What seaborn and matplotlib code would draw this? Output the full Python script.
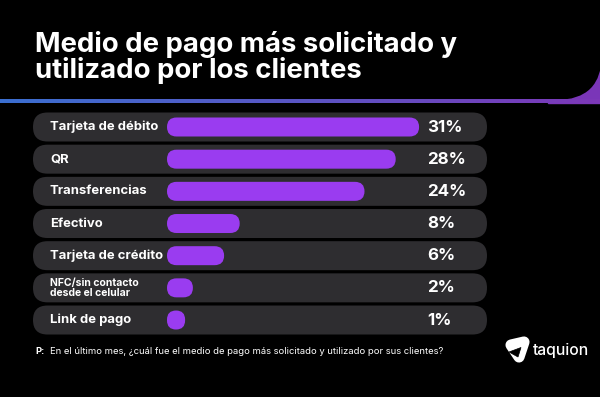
import numpy as np
import pandas as pd
import matplotlib
matplotlib.use("Agg")
import matplotlib.pyplot as plt
import seaborn as sns
from matplotlib.patches import FancyBboxPatch, Rectangle, Polygon
from matplotlib.colors import LinearSegmentedColormap

categories = ["Tarjeta de débito", "QR", "Transferencias", "Efectivo",
              "Tarjeta de crédito", "NFC/sin contacto\ndesde el celular", "Link de pago"]
values = [31, 28, 24, 8, 6, 2, 1]
value_labels = ["31%", "28%", "24%", "8%", "6%", "2%", "1%"]
title = "Medio de pago más solicitado y\nutilizado por los clientes"
question = "En el último mes, ¿cuál fue el medio de pago más solicitado y utilizado por sus clientes?"

BG = "#000000"
PILL = "#2e2d30"
BAR = "#9a3cf0"
FONT = ["Inter", "DejaVu Sans"]

sns.set_theme(style="white")
plt.rcParams["font.family"] = FONT

W, H = 600, 397
fig = plt.figure(figsize=(W / 100, H / 100), dpi=100, facecolor=BG)

# decoration axes in pixel units
bg = fig.add_axes([0, 0, 1, 1], zorder=0)
bg.set_xlim(0, W)
bg.set_ylim(H, 0)
bg.axis("off")
bg.set_facecolor(BG)
bg.add_patch(Rectangle((548, 30), 52, 73, color="#7a36b8", zorder=1))
bg.add_patch(FancyBboxPatch((-100, -100), 702, 200,
                            boxstyle="round,pad=0,rounding_size=46",
                            facecolor=BG, edgecolor="none", zorder=2))
grad = np.linspace(0, 1, 300).reshape(1, -1)
cmap = LinearSegmentedColormap.from_list("g", ["#3b6fd0", "#5a55c4", "#7d38b8"])
bg.imshow(grad, extent=[0, 600, 103.5, 100], aspect="auto", cmap=cmap, zorder=3)
bg.set_xlim(0, W)
bg.set_ylim(H, 0)

# logo mark
tri = Polygon([[511, 345], [524, 342], [519, 357]], closed=True, facecolor="white",
              edgecolor="white", linewidth=8, joinstyle="round", zorder=4)
bg.add_patch(tri)
bg.add_patch(Polygon([[509, 352], [521, 347.5], [518, 357]], closed=True,
                     facecolor=BG, edgecolor=BG, linewidth=0.5, zorder=5))

# main data axes
ax = fig.add_axes([0, 0, 1, 1], zorder=1)
ax.patch.set_alpha(0)
SX = 7.8           # px per percent
X0 = 172.15        # px of 0%
PITCH = 32.17      # px per row
Y0 = 127.0         # px of first row centre

def dx(px):
    return (px - X0) / SX

def dy(py):
    return (py - Y0) / PITCH

df = pd.DataFrame({"cat": categories, "val": values})
sns.barplot(data=df, x="val", y="cat", orient="h", color=BAR, width=19 / PITCH,
            ax=ax, zorder=3, saturation=1)
ax.set_xlim(dx(0), dx(W))
ax.set_ylim(dy(H), dy(0))
ax.axis("off")

aspect = SX / PITCH
pad = 5.15 / SX
for p in list(ax.patches):
    x, y, w, h = p.get_x(), p.get_y(), p.get_width(), p.get_height()
    p.remove()
    x0 = x - pad
    ww = w + 2 * pad
    r = min((h / aspect) / 2, ww / 2)
    ax.add_patch(FancyBboxPatch((x0, y), ww, h,
                                boxstyle=f"round,pad=0,rounding_size={r}",
                                mutation_aspect=aspect, facecolor=BAR,
                                edgecolor="none", zorder=3))

# pills
pill_h = 29 / PITCH
for i in range(len(categories)):
    x0 = dx(33)
    ww = dx(487) - dx(33)
    r = (pill_h / aspect) / 2
    ax.add_patch(FancyBboxPatch((x0, i - pill_h / 2), ww, pill_h,
                                boxstyle=f"round,pad=0,rounding_size={r}",
                                mutation_aspect=aspect, facecolor=PILL,
                                edgecolor="none", zorder=1))

for i, (c, v) in enumerate(zip(categories, value_labels)):
    small = "\n" in c
    ax.text(dx(50), i, c, color="white", fontsize=7.5 if small else 9.4,
            fontweight="bold", va="center", ha="left", linespacing=0.95, zorder=4)
    ax.text(dx(427), i, v, color="white", fontsize=12.2, fontweight="bold",
            va="center", ha="left", zorder=4)

fig.text(35 / W, 1 - 31 / H, title, color="white", fontsize=19.8, fontweight="bold",
         va="top", ha="left", linespacing=0.95)
fig.text(35 / W, 1 - 352 / H, "P:", color="white", fontsize=6.8, fontweight="bold",
         va="center", ha="left")
fig.text(50 / W, 1 - 352 / H, question, color="white", fontsize=6.8,
         va="center", ha="left")
fig.text(533 / W, 1 - 351 / H, "taquion", color="white", fontsize=11.3,
         fontweight="medium", va="center", ha="left")

fig.savefig("out.png", dpi=100, facecolor=BG)
